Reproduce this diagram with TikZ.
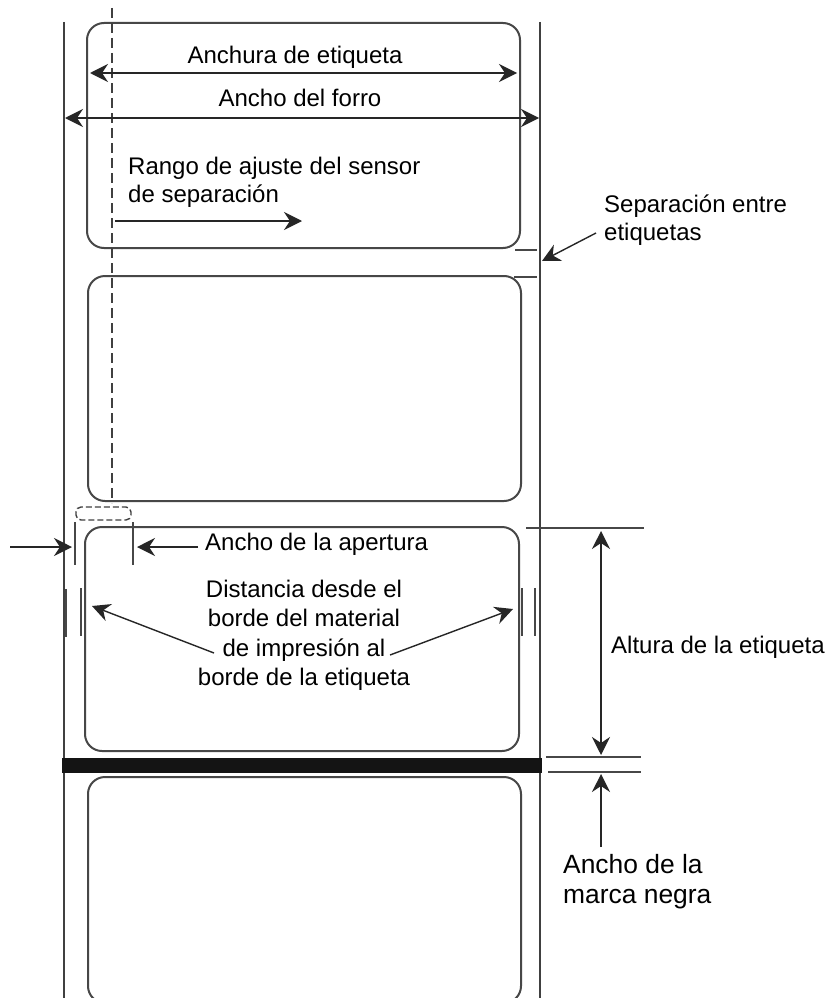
\documentclass[tikz,border=0pt]{standalone}
\usepackage{fontspec}
\setmainfont{Liberation Sans}
\usetikzlibrary{arrows.meta}
\tikzset{
  pic/.style={x=1pt,y=-1pt},
  labelbox/.style={draw=black!72,line width=2pt,rounded corners=17pt},
  rail/.style={draw=black!75,line width=1.4pt},
  thin rule/.style={draw=black!72,line width=1.3pt},
  dim/.style={draw=black!85,line width=1.4pt,-{Stealth[length=18pt,width=18pt,inset=6pt]}},
  ddim/.style={draw=black!85,line width=1.4pt,{Stealth[length=18pt,width=18pt,inset=6pt]}-{Stealth[length=18pt,width=18pt,inset=6pt]}},
  lab/.style={inner sep=0pt,font=\fontsize{24}{28}\selectfont,text=black},
  labl/.style={lab,align=left,anchor=base west},
  labc/.style={lab,align=center},
}
\begin{document}
\begin{tikzpicture}[pic]
\useasboundingbox (0,0) rectangle (834,998);
\fill[white] (0,0) rectangle (834,998);
% rails
\draw[rail] (64,22) coordinate (railLt) -- (64,998) coordinate (railLb);
\draw[rail] (540,22) coordinate (railRt) -- (540,998) coordinate (railRb);
% labels
\draw[labelbox] (87,23) rectangle (520,248);
\draw[labelbox] (88,276) rectangle (521,501);
\draw[labelbox] (85,527) rectangle (519,751);
\begin{scope}
\clip (0,770) rectangle (834,998);
\draw[labelbox] (88,777) rectangle (521,1003);
\end{scope}
% black mark
\fill[black!92] (62,758) rectangle (542,773);
% sensor line
\draw[black!75,line width=1.2pt,dash pattern=on 10pt off 5pt] (112,8) coordinate (dashT) -- (112,503) coordinate (dashB);
\draw[black!75,line width=1.4pt,dash pattern=on 6pt off 3pt,rounded corners=5pt] (76,507) rectangle (131,520);
% width arrows
\coordinate (wL) at (90,73); \coordinate (wR) at (517,73);
\draw[ddim] (wL) -- (wR);
\coordinate (lL) at (65,118); \coordinate (lR) at (539,118);
\draw[ddim] (lL) -- (lR);
\coordinate (sA) at (115,221); \coordinate (sB) at (302,221);
\draw[dim] (sA) -- (sB);
% gap
\draw[thin rule] (515,250) -- (537,250);
\draw[thin rule] (514,277) -- (537,277);
\coordinate (gapS) at (596,233); \coordinate (gapE) at (542,261);
\draw[dim] (gapS) -- (gapE);
% aperture
\draw[thin rule] (75,522) -- (75,565);
\draw[thin rule] (133,522) -- (133,565);
\coordinate (apL) at (10,547); \coordinate (apLe) at (72,547);
\draw[dim] (apL) -- (apLe);
\coordinate (apR) at (198,547); \coordinate (apRe) at (137,547);
\draw[dim] (apR) -- (apRe);
% edge distance
\draw[thin rule] (66,589) -- (66,637);
\draw[thin rule] (81,588) -- (81,636);
\draw[thin rule] (522,588) -- (522,636);
\draw[thin rule] (535,588) -- (535,636);
\coordinate (eLs) at (214,653); \coordinate (eLe) at (92,606);
\draw[dim] (eLs) -- (eLe);
\coordinate (eRs) at (390,655); \coordinate (eRe) at (513,609);
\draw[dim] (eRs) -- (eRe);
% height
\draw[thin rule] (526,528) -- (644,528);
\draw[thin rule] (546,757) -- (641,757);
\draw[thin rule] (548,772) -- (641,772);
\coordinate (hT) at (601,531); \coordinate (hB) at (601,755);
\draw[ddim] (hT) -- (hB);
\coordinate (mS) at (601,847); \coordinate (mE) at (601,774);
\draw[dim] (mS) -- (mE);
% texts
\node[labc] (t1) at (295,57) {Anchura de etiqueta};
\node[labc] (t2) at (300,98) {Ancho del forro};
\node[labl] (t3) at (128,202) {Rango de ajuste del sensor\\de separación};
\node[labl] (t4) at (604,240) {Separación entre\\etiquetas};
\node[labl] (t5) at (205,550) {Ancho de la apertura};
\node[labc,font=\fontsize{24}{29.5}\selectfont] (t6) at (304,635.5) {Distancia desde el\\borde del material\\de impresión al\\borde de la etiqueta};
\node[labl] (t7) at (611,653) {Altura de la etiqueta};
\node[labl,font=\fontsize{26.4}{30}\selectfont] (t8) at (563,903) {Ancho de la\\marca negra};
\end{tikzpicture}
\end{document}
